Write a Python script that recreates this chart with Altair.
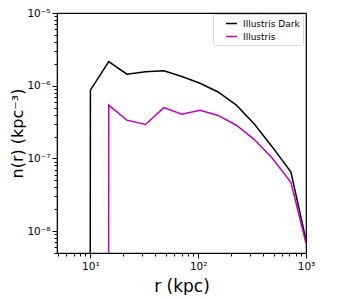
import json
import altair as alt
import pandas as pd

# ---- data ----
ZERO = 1e-300  # empty bin (0 on a log axis: the line drops straight off the bottom)
r_kpc = [6.81, 10, 14.8, 21.8, 32.5, 48, 70.5, 104, 153, 226, 330, 485, 725, 1000]
n_dark = [ZERO, 8.7e-7, 2.15e-6, 1.44e-6, 1.55e-6, 1.6e-6, 1.34e-6, 1.08e-6,
          8.2e-7, 5.4e-7, 3.0e-7, 1.45e-7, 6.5e-8, 7.5e-9]
n_illustris = [ZERO, ZERO, 5.4e-7, 3.36e-7, 2.93e-7, 5.0e-7, 4.05e-7, 4.6e-7,
               3.9e-7, 2.86e-7, 1.83e-7, 1.01e-7, 4.7e-8, 6.8e-9]
series_names = ["Illustris Dark", "Illustris"]
series_colors = ["#000000", "#bf00bf"]

x_domain = [4.9, 1000]
y_domain = [5e-9, 1e-5]
x_major = [10, 100, 1000]
x_major_labels = ["10¹", "10²", "10³"]
x_minor = [5, 6, 7, 8, 9, 20, 30, 40, 50, 60, 70, 80, 90,
           200, 300, 400, 500, 600, 700, 800, 900]
y_major = [1e-8, 1e-7, 1e-6, 1e-5]
y_major_labels = ["10⁻⁸", "10⁻⁷", "10⁻⁶", "10⁻⁵"]
y_minor = [5e-9, 6e-9, 7e-9, 8e-9, 9e-9,
           2e-8, 3e-8, 4e-8, 5e-8, 6e-8, 7e-8, 8e-8, 9e-8,
           2e-7, 3e-7, 4e-7, 5e-7, 6e-7, 7e-7, 8e-7, 9e-7,
           2e-6, 3e-6, 4e-6, 5e-6, 6e-6, 7e-6, 8e-6, 9e-6]

rows = []
for name, vals in zip(series_names, [n_dark, n_illustris]):
    for r, v in zip(r_kpc, vals):
        rows.append({"r": r, "n": v, "series": name})
df = pd.DataFrame(rows)


def label_expr(vals, labels):
    expr = "''"
    for v, l in reversed(list(zip(vals, labels))):
        expr = f"datum.value == {v!r} ? '{l}' : {expr}"
    return expr


def tick_size(vals):
    return {"condition": {"test": f"indexof({json.dumps(vals)}, datum.value) >= 0",
                          "value": 5}, "value": 3}


axis_common = dict(
    grid=False, domainColor="black", domainWidth=1, tickColor="black",
    tickWidth=1, labelColor="black", labelFont="DejaVu Sans", labelFontSize=10.5,
    titleFont="DejaVu Sans", titleFontWeight="normal",
    titleColor="black", labelFlush=False, labelOverlap=False,
)

chart = alt.Chart(df).mark_line(strokeWidth=1.5, clip=True).encode(
    x=alt.X("r:Q", scale=alt.Scale(type="log", domain=x_domain, nice=False),
            axis=alt.Axis(title="r (kpc)", values=sorted(x_major + x_minor),
                          labelExpr=label_expr(x_major, x_major_labels),
                          tickSize=tick_size(x_major), labelPadding=3,
                          titlePadding=7, titleFontSize=17, **axis_common)),
    y=alt.Y("n:Q", scale=alt.Scale(type="log", domain=y_domain, nice=False),
            axis=alt.Axis(title="n(r) (kpc⁻³)", values=sorted(y_major + y_minor),
                          labelExpr=label_expr(y_major, y_major_labels),
                          tickSize=tick_size(y_major), labelPadding=2,
                          titlePadding=1, titleFontSize=16, **axis_common)),
    color=alt.Color("series:N",
                    scale=alt.Scale(domain=series_names, range=series_colors),
                    legend=alt.Legend(title=None, orient="none", legendX=156, legendY=1,
                                      symbolType="stroke", symbolSize=121,
                                      symbolStrokeWidth=1.5, symbolOffset=9,
                                      labelOffset=5, labelFont="DejaVu Sans",
                                      labelFontSize=9, labelColor="black",
                                      padding=3, rowPadding=1,
                                      strokeColor="#d9d9d9", fillColor="white",
                                      cornerRadius=2)),
).properties(
    width=249, height=240,
    autosize=alt.AutoSizeParams(type="none"),
    padding={"left": 49, "top": 5, "right": 20, "bottom": 42},
).configure_view(stroke="black", strokeWidth=1.2)

chart.save("out.html", embed_options={"renderer": "svg", "actions": False})
